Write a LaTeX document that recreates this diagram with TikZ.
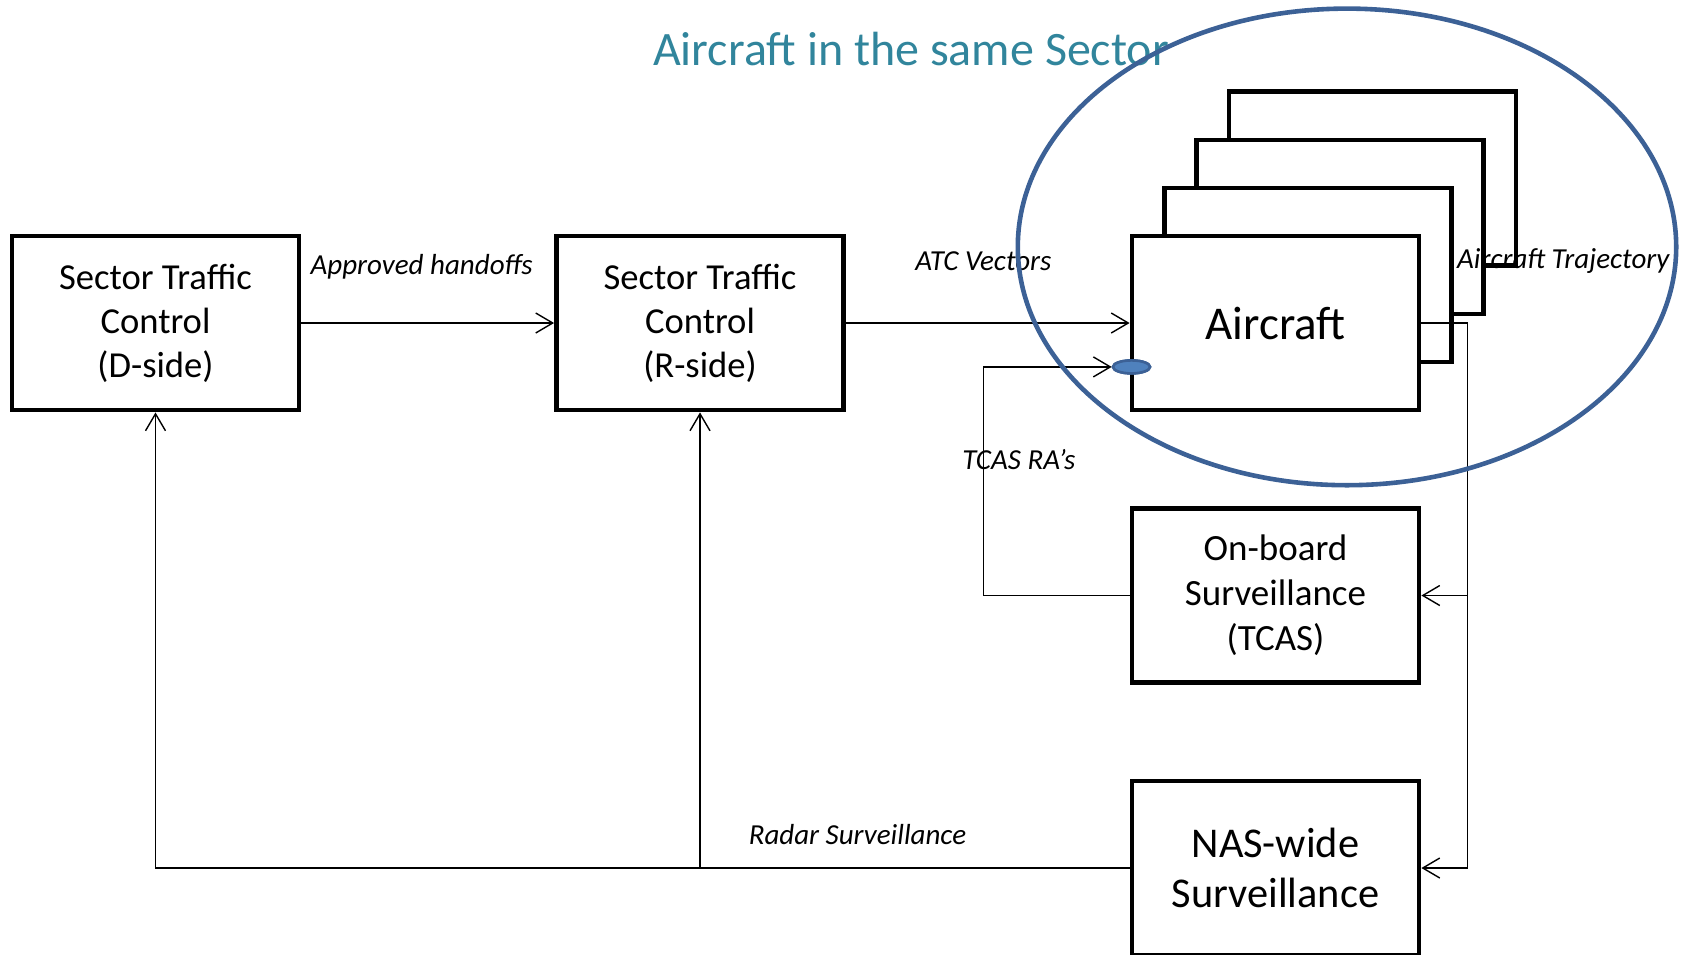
\documentclass[tikz,border=0pt]{standalone}
\usepackage{fontspec}
\setmainfont{Carlito}
\usetikzlibrary{arrows.meta,shapes.geometric}
\definecolor{titleteal}{HTML}{31859C}
\definecolor{ringblue}{HTML}{3C6196}
\definecolor{markfill}{HTML}{4F81BD}
\begin{document}
\begin{tikzpicture}[x=0.5pt,y=-0.5pt,
  blockbox/.style={draw=black,line width=2.4pt,fill=white,minimum width=143.5pt,minimum height=87pt,inner sep=0pt,align=center,font=\fontsize{18.3}{22}\selectfont},
  flow/.style={line width=0.7pt,-{Straight Barb[length=8.5pt,width=10pt,line width=0.7pt]}},
  lbl/.style={font=\fontsize{14.5}{17}\selectfont\itshape,inner sep=0pt},
  markstyle/.style={ellipse,draw=ringblue,fill=markfill,line width=1.3pt,minimum width=18.5pt,minimum height=6.5pt,inner sep=0pt}]
\useasboundingbox (0,0) rectangle (1687,954);

% boxes
\node[blockbox] (dside) at (155.5,323) {Sector Traffic\\Control\\(D-side)};
\node[blockbox] (rside) at (700,323) {Sector Traffic\\Control\\(R-side)};
\node[blockbox] (ac3) at (1372.4,178.8) {};
\node[blockbox] (ac2) at (1340.1,226.9) {};
\node[blockbox] (ac1) at (1307.8,274.9) {};
\node[blockbox,font=\fontsize{23.5}{28}\selectfont] (aircraft) at (1275.5,323) {Aircraft};
\node[blockbox,font=\fontsize{18.5}{22.5}\selectfont] (tcas) at (1275.5,595.5) {On-board\\Surveillance\\(TCAS)};
\node[blockbox,font=\fontsize{21.2}{25.3}\selectfont] (nas) at (1275.5,868) {NAS-wide\\Surveillance};

% labels
\node[titleteal,font=\fontsize{24}{28}\selectfont] (title) at (911,49.5) {Aircraft in the same Sector};
\node[lbl] (lblhand) at (421.7,266.8) {Approved handoffs};
\node[lbl] (lblatc) at (983.4,261.4) {ATC Vectors};
\node[lbl] (lbltraj) at (1563.3,261.4) {Aircraft Trajectory};
\node[lbl] (lbltcas) at (1018.9,459.4) {TCAS RA’s};
\node[lbl] (lblradar) at (857.5,834.9) {Radar Surveillance};

% marker on aircraft box
\node[markstyle] (mark) at (1131.5,366.9) {};

% coordinates
\coordinate (tcasbend) at (983.4,366.9);
\coordinate (trajx) at (1467.5,323);

% connectors
\draw[flow] (dside.east) -- (rside.west);
\draw[flow] (rside.east) -- (aircraft.west);
\draw[flow] (tcas.west) -| (tcasbend) -- (mark.west);
\draw[flow] (aircraft.east) -| (trajx |- tcas.east) -- (tcas.east);
\draw[flow] (trajx |- tcas.east) |- (nas.east);
\draw[flow] (nas.west) -| (dside.south);
\coordinate (radarjoin) at (rside.south |- nas.west);
\draw[flow] (radarjoin) -- (rside.south);

% sector ellipse
\node[ellipse,draw=ringblue,line width=2.3pt,minimum width=329.2pt,minimum height=238.3pt,inner sep=0pt] (sector) at (1347,246.9) {};

% marker on top
\node[markstyle] (marktop) at (mark) {};
\end{tikzpicture}
\end{document}
